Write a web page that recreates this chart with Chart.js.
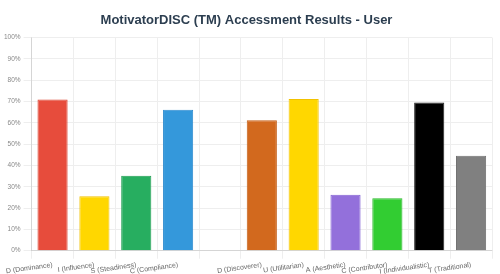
<!DOCTYPE html>
<html>
<head>
<meta charset="utf-8">
<script src="https://cdn.jsdelivr.net/npm/chart.js@4/dist/chart.umd.min.js"></script>
<style>
  html, body { margin: 0; padding: 0; background: #fff; }
  #wrap { width: 500px; height: 274px; }
</style>
</head>
<body>
<div id="wrap"><canvas id="chart"></canvas></div>
<script>
// categories (one blank slot separates the two groups)
var labels = ["D (Dominance)", "I (Influence)", "S (Steadiness)", "C (Compliance)", "",
    "D (Discoverer)", "U (Utilitarian)", "A (Aesthetic)", "C (Contributor)", "I (Individualistic)", "T (Traditional)"];
// scores in percent
var scores = [71, 25.6, 35.2, 66.2, null, 61.2, 71.2, 26.3, 24.6, 69.5, 44.6];
var barColors = ["#e74c3c", "#ffd700", "#27ae60", "#3498db", "#ffffff",
    "#d2691e", "#ffd700", "#9370db", "#32cd32", "#000000", "#808080"];
var borderColors = ["#d9412f", "#f2c200", "#1f9d52", "#2e8bcf", "#ffffff",
    "#c45e16", "#f2c200", "#8462d4", "#28b828", "#222222", "#727272"];

Chart.defaults.font.family = "'Liberation Sans', Arial, Helvetica, sans-serif";

var ctx = document.getElementById("chart").getContext("2d");
new Chart(ctx, {
    type: "bar",
    data: {
        labels: labels,
        datasets: [{
            label: "User",
            data: scores,
            backgroundColor: barColors,
            borderColor: borderColors,
            borderWidth: 1
        }]
    },
    options: {
        responsive: true,
        maintainAspectRatio: false,
        animation: false,
        layout: { padding: { left: 1, right: 8, top: 0, bottom: -4 } },
        plugins: {
            legend: { display: false },
            title: {
                display: true,
                text: "MotivatorDISC (TM) Accessment Results - User",
                color: "#2c3e50",
                font: { size: 13, weight: "bold" },
                padding: { top: 13, bottom: 9 }
            },
            tooltip: { enabled: false }
        },
        scales: {
            y: {
                min: 0,
                max: 100,
                ticks: {
                    stepSize: 10,
                    color: "#888",
                    font: { size: 6.5 },
                    padding: 3,
                    callback: function(v) { return v + "%"; }
                },
                grid: { color: "#eeeeee" }
            },
            x: {
                ticks: {
                    color: "#666",
                    font: { size: 7 },
                    padding: 2,
                    maxRotation: 8,
                    minRotation: 8,
                    autoSkip: false
                },
                grid: { color: "#eeeeee" }
            }
        }
    }
});
</script>
</body>
</html>
